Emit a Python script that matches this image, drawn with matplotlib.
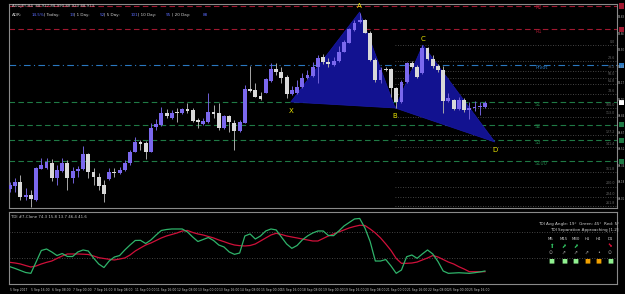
import matplotlib
matplotlib.use('Agg')
import matplotlib.pyplot as plt
from matplotlib.patches import Polygon

# AUDJPY H4 candles
opens = [88.11, 88.143, 88.183, 88.033, 88.05, 88.00, 88.313, 88.317, 88.373, 88.223,
         88.293, 88.373, 88.217, 88.293, 88.307, 88.46, 88.283, 88.233, 88.15, 88.21,
         88.28, 88.273, 88.30, 88.367, 88.483, 88.57, 88.567, 88.483, 88.727, 88.75,
         88.873, 88.817, 88.88, 88.867, 88.91, 88.90, 88.79, 88.76, 88.783, 88.88,
         88.873, 88.717, 88.84, 88.773, 88.693, 88.773, 89.107, 89.10, 89.04, 89.073,
         89.193, 89.307, 89.283, 89.227, 89.06, 89.073, 89.127, 89.217, 89.24, 89.333,
         89.427, 89.38, 89.35, 89.393, 89.483, 89.573, 89.70, 89.783, 89.80, 89.673,
         89.40, 89.20, 89.307, 89.307, 89.117, 88.983, 89.183, 89.367, 89.333, 89.267,
         89.517, 89.41, 89.34, 89.30, 88.993, 89.00, 88.91, 89.00, 88.90, 88.917,
         88.93, 88.927]
highs = [88.18, 88.22, 88.25, 88.12, 88.10, 88.33, 88.42, 88.42, 88.41, 88.35,
         88.42, 88.40, 88.333, 88.34, 88.54, 88.47, 88.32, 88.273, 88.20, 88.32,
         88.32, 88.333, 88.40, 88.50, 88.63, 88.60, 88.593, 88.773, 88.81, 88.93,
         88.91, 88.90, 88.92, 88.92, 88.973, 88.92, 88.82, 88.82, 89.067, 88.95,
         88.973, 88.85, 88.85, 88.80, 88.80, 89.15, 89.34, 89.167, 89.08, 89.22,
         89.367, 89.367, 89.33, 89.25, 89.14, 89.20, 89.27, 89.30, 89.38, 89.45,
         89.46, 89.42, 89.43, 89.54, 89.60, 89.72, 89.80, 89.867, 89.81, 89.69,
         89.42, 89.33, 89.33, 89.32, 89.13, 89.20, 89.38, 89.39, 89.35, 89.55,
         89.53, 89.45, 89.36, 89.34, 89.07, 89.01, 89.03, 89.02, 88.98, 88.99,
         88.98, 88.99]
lows = [88.08, 88.08, 88.00, 88.00, 87.933, 87.99, 88.31, 88.31, 88.19, 88.15,
        88.283, 88.10, 88.167, 88.227, 88.30, 88.22, 88.15, 88.10, 87.983, 88.20,
        88.233, 88.26, 88.293, 88.35, 88.48, 88.50, 88.407, 88.477, 88.70, 88.74,
        88.82, 88.81, 88.783, 88.86, 88.867, 88.78, 88.72, 88.75, 88.773, 88.82,
        88.70, 88.71, 88.683, 88.50, 88.68, 88.77, 89.083, 89.027, 89.00, 89.067,
        89.183, 89.25, 89.17, 89.017, 89.05, 89.06, 89.12, 89.207, 89.23, 89.17,
        89.36, 89.33, 89.34, 89.38, 89.48, 89.57, 89.69, 89.77, 89.67, 89.39,
        89.18, 89.17, 89.29, 89.033, 88.92, 88.97, 89.17, 89.32, 89.22, 89.26,
        89.40, 89.32, 89.28, 88.87, 88.98, 88.90, 88.90, 88.88, 88.81, 88.89,
        88.85, 88.92]
closes = [88.15, 88.183, 88.033, 88.05, 88.007, 88.317, 88.347, 88.377, 88.223, 88.30,
          88.373, 88.217, 88.293, 88.307, 88.46, 88.277, 88.233, 88.14, 88.057, 88.283,
          88.273, 88.30, 88.373, 88.483, 88.583, 88.563, 88.483, 88.723, 88.76, 88.873,
          88.843, 88.873, 88.867, 88.91, 88.893, 88.79, 88.785, 88.793, 88.883, 88.863,
          88.717, 88.843, 88.783, 88.693, 88.783, 89.107, 89.093, 89.033, 89.01, 89.207,
          89.307, 89.283, 89.217, 89.06, 89.10, 89.133, 89.217, 89.25, 89.333, 89.423,
          89.383, 89.36, 89.393, 89.483, 89.583, 89.707, 89.773, 89.80, 89.673, 89.40,
          89.20, 89.30, 89.30, 89.117, 88.983, 89.183, 89.367, 89.333, 89.233, 89.517,
          89.41, 89.34, 89.30, 88.993, 89.017, 88.91, 89.00, 88.90, 88.923, 88.93,
          88.943, 88.973]

# TDI lines (price line green, signal line red)
tdi_green = [20.7, 18.3, 15.6, 12.9, 11.8, 27.0, 42.6, 44.6, 40.6, 35.8,
             38.5, 34.5, 34.5, 40.6, 43.3, 41.9, 32.5, 24.4, 19.6, 28.4,
             33.8, 35.8, 43.3, 50.0, 56.1, 56.3, 52.0, 56.8, 63.5, 69.6,
             70.9, 71.6, 71.6, 71.6, 67.6, 60.8, 54.7, 57.4, 60.1, 56.1,
             50.0, 47.3, 40.6, 37.4, 39.2, 62.2, 64.9, 58.1, 62.2, 68.9,
             71.6, 70.3, 60.8, 51.4, 45.5, 49.3, 56.8, 62.2, 66.2, 68.9,
             68.9, 62.8, 62.6, 68.9, 75.7, 80.4, 85.1, 85.8, 73.0, 54.7,
             28.4, 28.4, 30.4, 21.7, 11.8, 16.3, 34.2, 36.5, 32.0, 37.9,
             43.3, 37.9, 27.7, 14.9, 11.8, 12.2, 12.6, 12.2, 11.8, 12.6,
             13.6, 14.9]
tdi_red = [26.6, 25.7, 24.4, 22.3, 20.3, 21.7, 24.4, 26.6, 28.4, 31.8,
           35.2, 37.9, 37.9, 37.9, 37.6, 37.2, 35.2, 32.9, 31.8, 30.7,
           29.8, 31.1, 32.5, 36.5, 41.9, 46.0, 50.0, 52.7, 56.1, 59.5,
           62.2, 64.2, 66.2, 68.9, 69.6, 66.9, 64.9, 63.5, 61.5, 59.5,
           56.8, 54.5, 52.0, 50.0, 49.1, 48.7, 49.3, 51.4, 55.4, 59.5,
           63.5, 65.8, 64.2, 62.2, 60.8, 59.5, 58.1, 56.8, 55.4, 55.4,
           58.8, 62.2, 64.9, 67.6, 70.3, 73.0, 75.0, 76.6, 76.3, 71.6,
           66.2, 59.5, 51.4, 42.6, 31.8, 25.3, 25.3, 25.7, 27.0, 29.8,
           32.5, 35.8, 33.8, 30.4, 27.0, 24.4, 20.7, 17.6, 14.0, 14.0,
           14.0, 14.0]

# harmonic pattern points (bar index, price)
pat_names = ['X', 'A', 'B', 'C', 'D']
pat_idx = [53.8, 67.0, 73.8, 79.1, 92.9]
pat_price = [88.98, 89.88, 88.92, 89.55, 88.58]

# pivot levels
pivot_names = ['R2', 'R1', 'Pivot', 'S1', 'S2', 'S3', 'S100']
pivot_levels = [89.94, 89.707, 89.347, 88.977, 88.753, 88.597, 88.387]
pivot_colors = ['#a01830', '#a01830', '#2a78c0', '#1f7a45', '#1f7a45', '#1f7a45', '#1f7a45']

# fibo levels drawn from point B
fib_levels = [89.55, 89.39, 89.293, 89.225, 89.16, 89.057, 88.917, 88.833,
              88.65, 88.525, 88.283, 88.133, 88.027, 87.94]
fib_names = ['0.0', '23.6', '38.2', '50.0', '61.8', '78.6', '100.0', '113.0',
             '127.2', '141.4', '161.8', '200.0', '224.0', '261.8']

# right price scale ticks
scale_ticks = [89.83, 89.66, 89.50, 89.33, 89.17, 89.00, 88.84, 88.67, 88.51, 88.34, 88.18, 88.01]

time_labels = ['5 Sep 2017', '5 Sep 16:00', '6 Sep 08:00', '7 Sep 00:00', '7 Sep 16:00',
               '8 Sep 08:00', '11 Sep 00:00', '11 Sep 16:00', '12 Sep 08:00', '13 Sep 00:00',
               '13 Sep 16:00', '14 Sep 08:00', '15 Sep 00:00', '15 Sep 16:00', '18 Sep 08:00',
               '19 Sep 00:00', '19 Sep 16:00', '20 Sep 08:00', '21 Sep 00:00', '21 Sep 16:00',
               '22 Sep 08:00', '25 Sep 00:00', '25 Sep 16:00']

W, H = 625, 294
fig = plt.figure(figsize=(W / 100, H / 100), dpi=100, facecolor='black')


def fx(x):
    return x / W


def fy(y):
    return 1 - y / H


ax = fig.add_axes([fx(9), fy(208), fx(608), 204 / H], facecolor='black')
ax2 = fig.add_axes([fx(9), fy(284), fx(608), 72 / H], facecolor='black')

for a in (ax, ax2):
    a.set_xlim(-0.19, 116.3)
    a.set_xticks([])
    a.set_yticks([])
    for s in a.spines.values():
        s.set_color('#8a8a8a')
        s.set_linewidth(0.8)
ax.set_ylim(87.92, 89.96)
ax2.set_ylim(-2.6, 94.5)

n = len(opens)
idx = list(range(n))
bull = [c >= o for o, c in zip(opens, closes)]
body_col = ['#7b68ee' if b else '#d9d9d9' for b in bull]
wick_col = ['#7060d8' if b else '#a8a8a8' for b in bull]
bottoms = [min(o, c) for o, c in zip(opens, closes)]
heights = [max(abs(c - o), 0.012) for o, c in zip(opens, closes)]

# pivot lines
for name, lv, col in zip(pivot_names, pivot_levels, pivot_colors):
    ls = (0, (6, 3, 1, 3)) if name == 'Pivot' else (0, (5, 3))
    ax.axhline(lv, color=col, lw=0.8, ls=ls, zorder=1)
    ax.text(100.6, lv - 0.02, name, color=col, fontsize=3.6, va='center', zorder=5)

# fibo lines from B to the right edge
ax.hlines(fib_levels, pat_idx[2], 116.3, colors='#5a5a5a', lw=0.6, linestyles=(0, (1, 2)), zorder=1)
for lv, t in zip(fib_levels, fib_names):
    ax.text(115.9, lv + 0.012, t, color='#6a6a6a', fontsize=2.3, ha='right', va='bottom', zorder=5)

# harmonic pattern triangles
tri1 = [(pat_idx[i], pat_price[i]) for i in (0, 1, 2)]
tri2 = [(pat_idx[i], pat_price[i]) for i in (2, 3, 4)]
for tri in (tri1, tri2):
    ax.add_patch(Polygon(tri, closed=True, facecolor='#121290', edgecolor='#1a1aa8', lw=0.5, zorder=2))

# candles
ax.vlines(idx, lows, highs, colors=wick_col, lw=0.7, zorder=3)
ax.bar(idx, heights, bottom=bottoms, width=0.74, color=body_col, linewidth=0, zorder=4)

# pattern labels
offs = [-0.09, 0.06, -0.08, 0.06, -0.08]
for name, i, p, o in zip(pat_names, pat_idx, pat_price, offs):
    ax.text(i, p + o, name, color='#e8e400', fontsize=5, ha='center', va='center', zorder=6)

# right price scale: coloured level boxes and labels
ytr = ax.get_yaxis_transform()
for name, lv, col in zip(pivot_names, pivot_levels, pivot_colors):
    ax.text(1.004, lv, '    ', transform=ytr, fontsize=2.6, va='center', ha='left',
            bbox=dict(boxstyle='square,pad=0.15', fc=col, ec='none'), clip_on=False)
ax.text(1.004, closes[-1], '    ', transform=ytr, fontsize=2.6, va='center', ha='left',
        bbox=dict(boxstyle='square,pad=0.15', fc='white', ec='none'), clip_on=False)
for t in scale_ticks:
    y_fig = fig.transFigure.inverted().transform(ax.transData.transform((0, t)))[1]
    fig.text(fx(624.6), y_fig, f'{t:.2f}', color='#b0b0b0', fontsize=1.8, va='center', ha='right')

# info header
fig.text(fx(12), fy(5.5), 'AUDJPY,H4  88.927 88.990 88.920 88.973', color='#c8c8c8', fontsize=2.8, va='center')
hdr = [(12, 'ADR:', '#d0d0d0'), (31.5, '14.5%', '#5a6cff'), (44.5, '| Today:', '#d0d0d0'),
       (70, '13', '#5a6cff'), (74, '| 1 Day:', '#d0d0d0'), (100, '52', '#5a6cff'),
       (104, '| 5 Day:', '#d0d0d0'), (131, '101', '#5a6cff'), (137.5, '| 10 Day:', '#d0d0d0'),
       (166, '95', '#5a6cff'), (172, '| 20 Day:', '#d0d0d0'), (203, '88', '#5a6cff')]
for x, t, c in hdr:
    fig.text(fx(x), fy(15), t, color=c, fontsize=3.0, va='center')

# TDI panel
ax2.axhline(68, color='#5a5a5a', lw=0.6, ls=(0, (1, 2)))
ax2.axhline(32, color='#5a5a5a', lw=0.6, ls=(0, (1, 2)))
ax2.plot(idx, tdi_red, color='#d0103a', lw=0.9)
ax2.plot(idx, tdi_green, color='#2fb36a', lw=0.9)
fig.text(fx(11), fy(216.5), 'TDI #7-Clone 74.3 15.8 13.7 46.4 41.6', color='#c8c8c8', fontsize=2.8, va='center')
fig.text(fx(619), fy(224), 'TDI Avg Angle: 19°  Green: 45°  Red: 5°', color='#d0d0d0', fontsize=3.0, ha='right', va='center')
fig.text(fx(619), fy(229.5), 'TDI Separation Approaching [1.2]', color='#d0d0d0', fontsize=3.0, ha='right', va='center')
tf = ['M5', 'M15', 'M30', 'H1', 'H4', 'D1']
tf_x = [551, 564, 575.5, 587, 598.5, 610]
arrows = ['⬆', '⬈', '⬈', '', '', '⬊']
arrow_c = ['#30c060', '#30c060', '#30c060', '#30c060', '#30c060', '#e0103a']
sq_c = ['#90f090', '#90f090', '#90f090', '#f0a000', '#f0a000', '#90f090']
marks = ['⊙', '⇗', '⇗', '⇗', '•', '⊙']
for x, t, a, ac, sc, m in zip(tf_x, tf, arrows, arrow_c, sq_c, marks):
    fig.text(fx(x), fy(238.5), t, color='#d0d0d0', fontsize=2.8, ha='center', va='center')
    if a:
        fig.text(fx(x), fy(246), a, color=ac, fontsize=4, ha='center', va='center')
    fig.text(fx(x), fy(252.5), m, color='#a0a0a0', fontsize=3.3, ha='center', va='center')
    fig.text(fx(x), fy(260.5), '■', color=sc, fontsize=4.5, ha='center', va='center')

# time axis labels, every 4 bars
for k, lab in enumerate(time_labels):
    ax2.text(k * 4, -0.06, lab, transform=ax2.get_xaxis_transform(), color='#c8c8c8',
             fontsize=2.2, ha='left', va='top', clip_on=False)

fig.savefig('out.png', dpi=100, facecolor='black')
